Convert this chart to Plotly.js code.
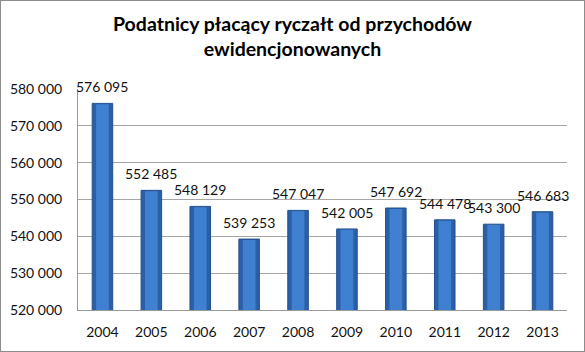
<!DOCTYPE html>
<html><head><meta charset="utf-8">
<script src="https://cdn.plot.ly/plotly-3.0.1.min.js"></script>
<style>
html,body{margin:0;padding:0;background:#fff;}
#frame{position:absolute;left:0;top:0;width:583px;height:350px;border:1px solid #8c8c8c;box-sizing:content-box;}
#chart{width:583px;height:350px;}
</style></head>
<body><div id="frame"><div id="chart"></div></div>
<script>
const years = ['2004','2005','2006','2007','2008','2009','2010','2011','2012','2013'];
const values = [576095,552485,548129,539253,547047,542005,547692,544478,543300,546683];
const tickValues = [520000,530000,540000,550000,560000,570000,580000];

function fmt(v){return String(v).replace(/\B(?=(\d{3})+(?!\d))/g,' ');}
const fontFam = 'Lato, "Liberation Sans", sans-serif';

const outer = {
  type:'bar', x:years, y:values,
  marker:{color:'#2b5fa6', line:{color:'#23508e', width:1}},
  width:0.42, hoverinfo:'none'
};
const inner = {
  type:'bar', x:years, y:values.map(v=>v-250),
  marker:{color:'#3f80d0', line:{width:0}},
  width:0.26, hoverinfo:'none'
};
const annotations = years.map((y,i)=>({
  x:i, y:values[i], text:fmt(values[i]), showarrow:false,
  yanchor:'bottom', yshift:6, font:{family:fontFam,size:14,color:'#111'}
}));
const layout = {
  width:583, height:350,
  margin:{l:77,r:17,t:88,b:41},
  barmode:'overlay',
  paper_bgcolor:'#fff', plot_bgcolor:'#fff',
  title:{text:'<b>Podatnicy płacący ryczałt od przychodów<br>ewidencjonowanych</b>',
    font:{family:fontFam,size:19.5,color:'#000'}, x:0.5, xanchor:'center', yref:'container', y:0.915, yanchor:'middle'},
  xaxis:{type:'category', range:[-0.5,9.5], showgrid:false, showline:true, linecolor:'#999', ticks:'',
    tickfont:{family:fontFam,size:14,color:'#111'}, ticklabelstandoff:9},
  yaxis:{range:[520000,580000], tickvals:tickValues, ticktext:tickValues.map(fmt),
    showgrid:true, gridcolor:'#a6a6a6', gridwidth:1, showline:true, linecolor:'#999',
    zeroline:false, ticks:'', tickfont:{family:fontFam,size:14,color:'#111'}, ticklabelstandoff:12},
  annotations:annotations,
  showlegend:false
};
Plotly.newPlot('chart',[outer, inner],layout,{displayModeBar:false,staticPlot:true});
</script></body></html>
